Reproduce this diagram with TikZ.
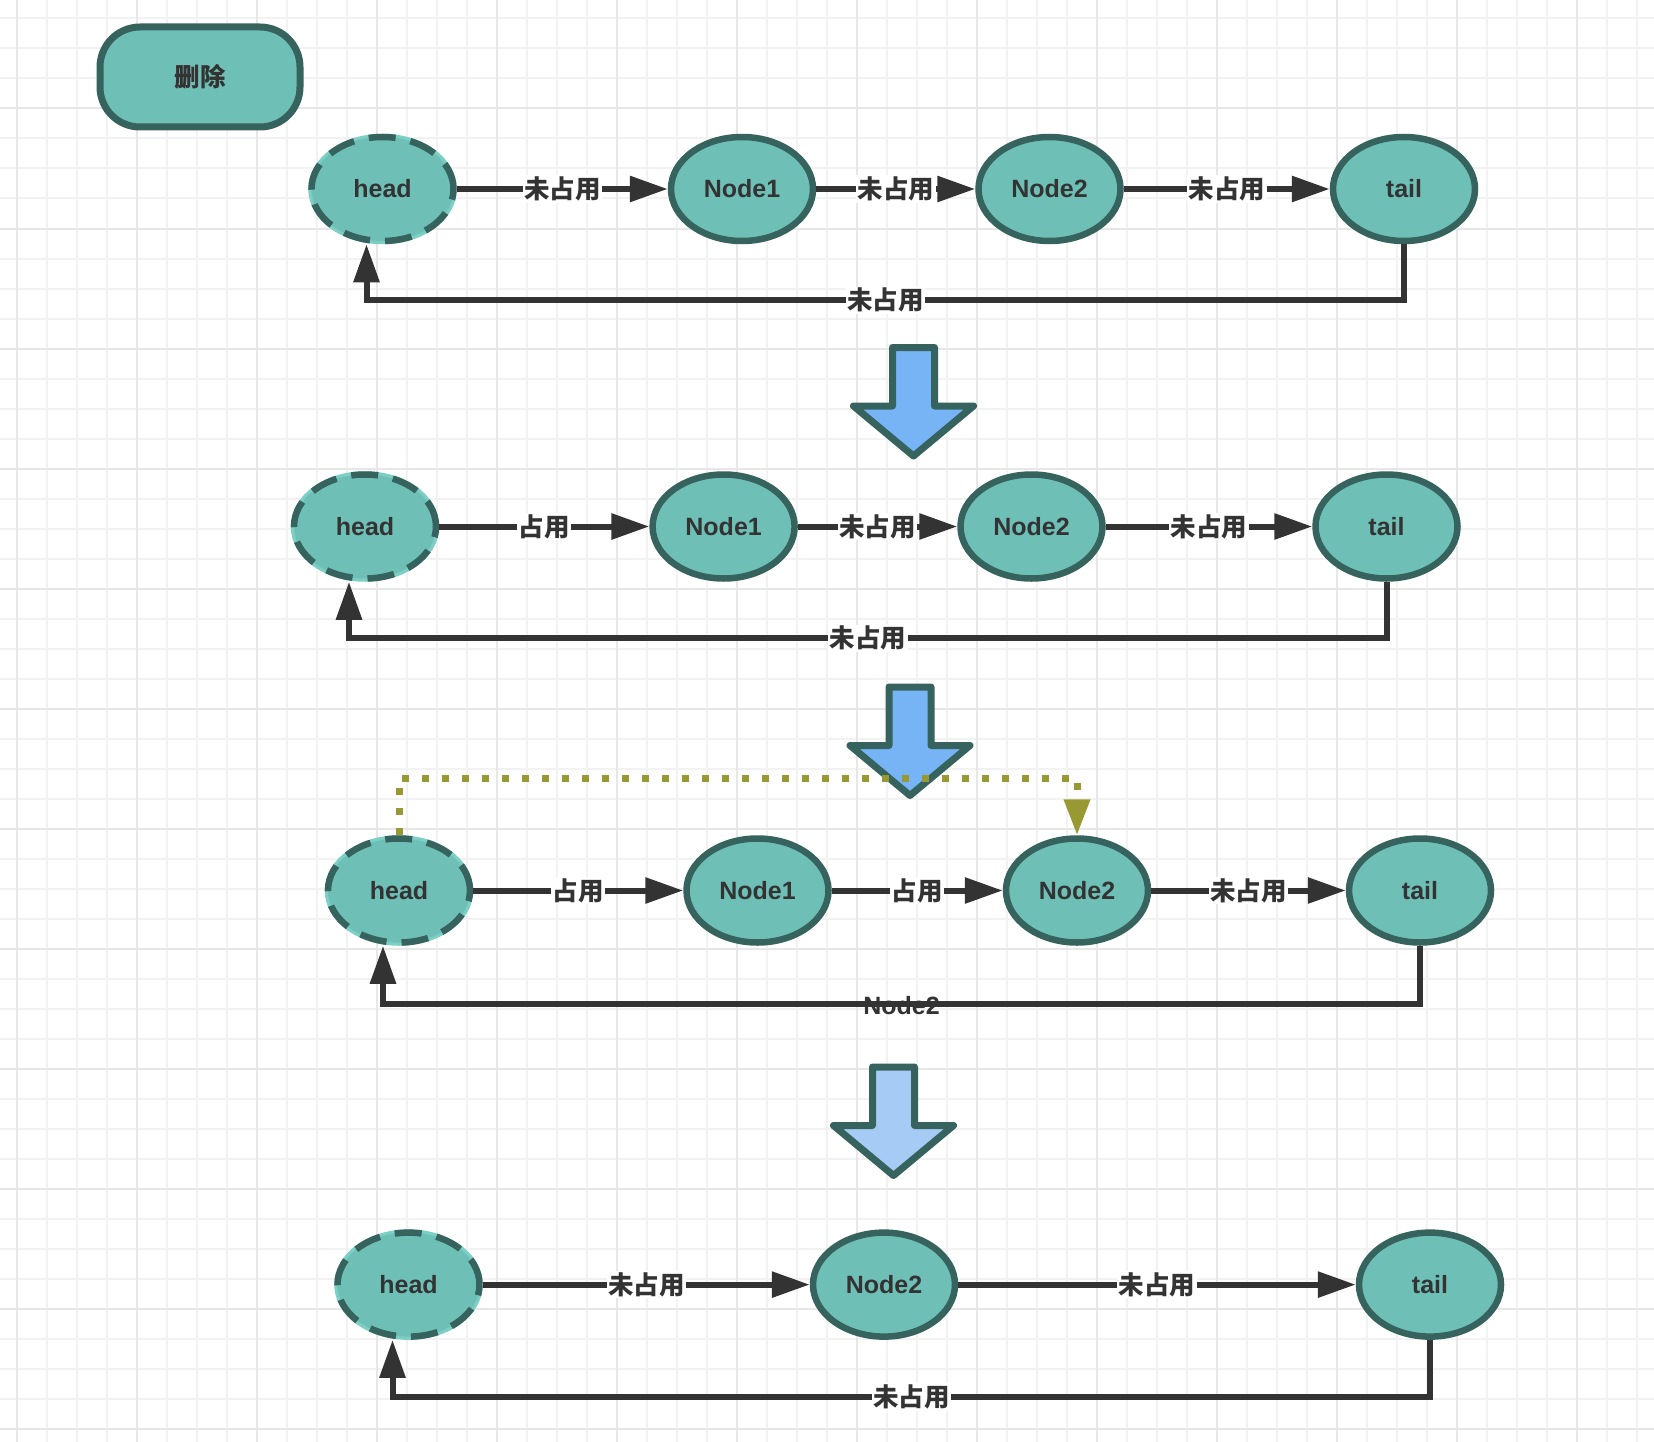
\documentclass[tikz,border=0pt]{standalone}
\usepackage{fontspec}
\setmainfont{Liberation Sans}
\newfontfamily\cjk{Noto Sans CJK SC}
\usetikzlibrary{arrows.meta,calc,shapes.geometric}

\definecolor{nodefill}{HTML}{6EC0B7}
\definecolor{nodeline}{HTML}{36635D}
\definecolor{gapfill}{HTML}{7CCFC5}
\definecolor{ink}{HTML}{333333}
\definecolor{gridminor}{HTML}{F2F2F2}
\definecolor{gridmajor}{HTML}{E7E7E7}
\definecolor{dotolive}{HTML}{999933}
\definecolor{arrowblue}{HTML}{77B4F6}
\definecolor{arrowpale}{HTML}{A6CCF6}

\begin{document}
\begin{tikzpicture}[x=1pt,y=-1pt,
  lnode/.style={ellipse, minimum width=142pt, minimum height=104pt, inner sep=0pt,
    fill=nodefill, draw=nodeline, line width=6.5pt, text=ink,
    font=\bfseries\fontsize{25}{29}\selectfont},
  headnode/.style={lnode, dash pattern=on 27pt off 15pt,
    preaction={draw=gapfill, solid, line width=6.5pt}},
  btn/.style={rectangle, rounded corners=40pt, minimum width=200pt, minimum height=100pt,
    fill=nodefill, draw=nodeline, line width=7pt, text=ink,
    font=\cjk\bfseries\fontsize{25.5}{29}\selectfont},
  edge/.style={draw=ink, line width=6pt, -{Triangle[length=38pt,width=25pt]}},
  lbl/.style={fill=white, inner sep=1.5pt, text=ink,
    font=\cjk\bfseries\fontsize{25.5}{29}\selectfont},
  lblplain/.style={inner sep=0pt, text=ink, font=\bfseries\fontsize{25}{29}\selectfont},
  dotline/.style={draw=dotolive, line width=7pt, dash pattern=on 7pt off 13pt,
    -{Triangle[length=36pt,width=25pt,fill=dotolive]}},
  blockarrow/.style={draw=nodeline, line width=7pt, line join=round},
  downarrow/.pic={
    \path[blockarrow, pic actions] (-21,3.5) -- (21,3.5) -- (21,62) -- (60,62)
      -- (0,112) -- (-60,62) -- (-21,62) -- cycle;
  }
]
% canvas and background grid
\useasboundingbox (0,0) rectangle (1654,1442);
\fill[white] (0,0) rectangle (1654,1442);
\foreach \i in {0,...,54}
  \draw[gridminor, line width=2pt] ({16.7+30*\i},0) -- ++(0,1442);
\foreach \i in {0,...,47}
  \draw[gridminor, line width=2pt] (0,{18.5+30*\i}) -- ++(1654,0);
\foreach \i in {0,...,13}
  \draw[gridmajor, line width=2pt] ({16.7+120*\i},0) -- ++(0,1442);
\foreach \i in {0,...,11}
  \draw[gridmajor, line width=2pt] (0,{108.5+120*\i}) -- ++(1654,0);

% step arrows
\pic[fill=arrowblue] at (913.5,344) {downarrow};
\pic[fill=arrowblue] at (910,683.5) {downarrow};
\pic[fill=arrowpale] at (893.5,1063.5) {downarrow};

% title button
\node[btn] (del) at (200,77) {删除};

% state 1
\node[headnode] (h1) at (382.5,189) {head};
\node[lnode] (a1) at (742,189) {Node1};
\node[lnode] (b1) at (1049.5,189) {Node2};
\node[lnode] (t1) at (1404,189) {tail};
\draw[edge] (h1) -- node[lbl] {未占用} (a1);
\draw[edge] (a1) -- node[lbl] {未占用} (b1);
\draw[edge] (b1) -- node[lbl] {未占用} (t1);
\draw[edge] (t1.south) -- ++(0,56) -| node[pos=0.25, lbl] {未占用} ($(h1.south)+(-16,0)$);

% state 2
\node[headnode] (h2) at (365,526.5) {head};
\node[lnode] (a2) at (723.6,526.5) {Node1};
\node[lnode] (b2) at (1031.5,526.5) {Node2};
\node[lnode] (t2) at (1386.5,526.5) {tail};
\draw[edge] (h2) -- node[lbl] {占用} (a2);
\draw[edge] (a2) -- node[lbl] {未占用} (b2);
\draw[edge] (b2) -- node[lbl] {未占用} (t2);
\draw[edge] (t2.south) -- ++(0,56.5) -| node[pos=0.25, lbl] {未占用} ($(h2.south)+(-16,0)$);

% state 3
\node[headnode] (h3) at (399,890.5) {head};
\node[lnode] (a3) at (757.5,890.5) {Node1};
\node[lnode] (b3) at (1077,890.5) {Node2};
\node[lnode] (t3) at (1420,890.5) {tail};
\draw[edge] (h3) -- node[lbl] {占用} (a3);
\draw[edge] (a3) -- node[lbl] {占用} (b3);
\draw[edge] (b3) -- node[lbl] {未占用} (t3);
\path (t3.south) -- ++(0,58) -| node[pos=0.25, lblplain, yshift=-2pt] {Node2} ($(h3.south)+(-16,0)$);
\draw[edge] (t3.south) -- ++(0,58) -| ($(h3.south)+(-16,0)$);
\draw[dotline] (h3.north) -- ++(0,-57) -| (b3.north);

% state 4
\node[headnode] (h5) at (408.5,1284.6) {head};
\node[lnode] (b5) at (884,1284.6) {Node2};
\node[lnode] (t5) at (1430,1284.6) {tail};
\draw[edge] (h5) -- node[lbl] {未占用} (b5);
\draw[edge] (b5) -- node[lbl] {未占用} (t5);
\draw[edge] (t5.south) -- ++(0,57) -| node[pos=0.25, lbl] {未占用} ($(h5.south)+(-16,0)$);
\end{tikzpicture}
\end{document}
